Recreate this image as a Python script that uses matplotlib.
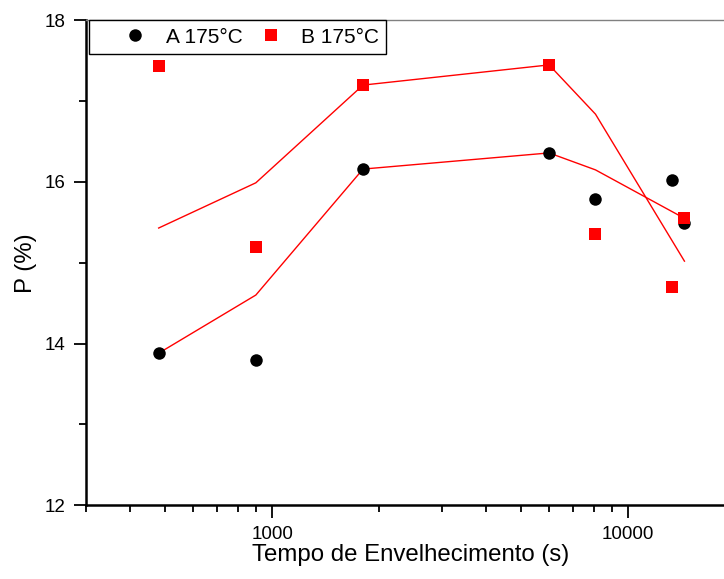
import numpy as np
import matplotlib
matplotlib.use('Agg')
import matplotlib.pyplot as plt

plt.rcParams['font.family'] = ['Liberation Sans', 'DejaVu Sans']

# aging time (s)
t_pts = [480, 900, 1800, 6000, 8100, 13300, 14400]
p_A = [13.88, 13.79, 16.16, 16.36, 15.79, 16.02, 15.49]
p_B = [17.44, 15.19, 17.20, 17.45, 15.35, 14.70, 15.56]

# red guide lines
t_line = [480, 900, 1800, 6000, 8100, 14400]
line_up = [15.43, 15.99, 17.20, 17.45, 16.84, 15.02]
line_low = [13.88, 14.60, 16.16, 16.36, 16.15, 15.55]

fig = plt.figure(figsize=(7.24, 5.79), dpi=100)
ax = fig.add_axes([0.1188, 0.1278, 0.8967, 0.8368])

ax.plot(t_line, line_up, color='red', lw=1, zorder=2)
ax.plot(t_line, line_low, color='red', lw=1, zorder=2)
ax.plot(t_pts, p_A, 'o', color='black', ms=9, mew=0, label='A 175°C', zorder=3)
ax.plot(t_pts, p_B, 's', color='red', ms=8, mew=0, label='B 175°C', zorder=4)

ax.set_xscale('log')
ax.set_xlim(300, 20000)
ax.set_ylim(12, 18)
ax.set_yticks([12, 14, 16, 18])
ax.set_yticks([13, 15, 17], minor=True)
ax.xaxis.set_major_formatter(matplotlib.ticker.FuncFormatter(lambda v, p: '%d' % v))

ax.tick_params(which='major', direction='out', length=9, width=1.3, labelsize=13.5, pad=6)
ax.tick_params(which='minor', direction='out', length=5, width=1.3)
for s in ['left', 'bottom']:
    ax.spines[s].set_linewidth(1.8)
ax.spines['top'].set_color('#808080')
ax.spines['top'].set_linewidth(1)
ax.spines['right'].set_visible(False)

ax.set_xlabel('Tempo de Envelhecimento (s)', fontsize=17.3, labelpad=1)
ax.set_ylabel('P (%)', fontsize=17.3, labelpad=5)

leg = ax.legend(loc='upper left', bbox_to_anchor=(0.004, 1.0), borderaxespad=0,
                ncol=2, fontsize=15, numpoints=1, handlelength=3.8,
                handletextpad=-0.45, columnspacing=-0.55, fancybox=False,
                framealpha=1, edgecolor='black', borderpad=0.35)
leg.get_frame().set_linewidth(1)

fig.savefig('out.png', dpi=100)
